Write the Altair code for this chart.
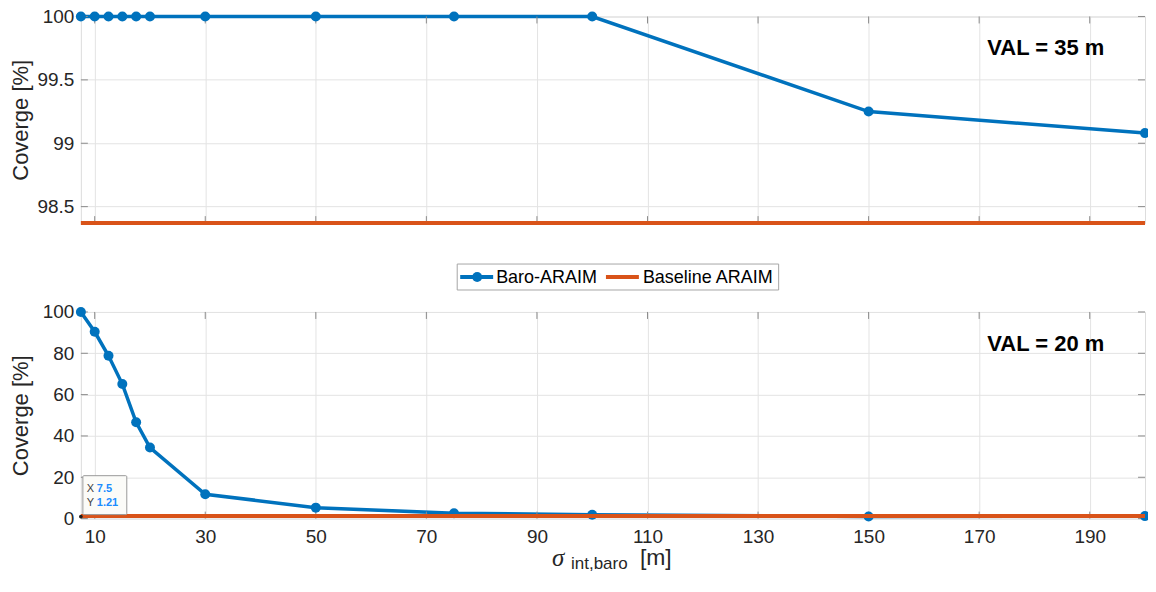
import altair as alt
import pandas as pd

# ---------------- data ----------------
sigma = [7.5, 10, 12.5, 15, 17.5, 20, 30, 50, 75, 100, 150, 200]
baro_35 = [100, 100, 100, 100, 100, 100, 100, 100, 100, 100, 99.25, 99.08]
base_35 = [98.37, 98.37, 98.37, 98.37, 98.37, 98.37, 98.37, 98.37, 98.37, 98.37, 98.37, 98.37]
baro_20 = [100, 90.4, 78.8, 65.1, 46.6, 34.4, 11.8, 5.3, 2.6, 1.9, 1.0, 1.21]
base_20 = [1.21, 1.21, 1.21, 1.21, 1.21, 1.21, 1.21, 1.21, 1.21, 1.21, 1.21, 1.21]
x_ticks = [10, 30, 50, 70, 90, 110, 130, 150, 170, 190]
y_ticks_35 = [98.5, 99, 99.5, 100]
y_ticks_20 = [0, 20, 40, 60, 80, 100]
series_names = ["Baro-ARAIM", "Baseline ARAIM"]

FONT = "Liberation Sans"
BLUE = "#0072BD"
ORANGE = "#D95319"
TXT = "#262626"
GRID = "#e3e3e3"
TICK = "#8c8c8c"
W, H = 1066, 207

one = pd.DataFrame({"k": [0]})


def panel(baro, base, ydom, yticks, val_text, bottom):
    df = pd.DataFrame({"sigma": sigma, "baro": baro, "base": base})
    xscale = alt.Scale(domain=[min(sigma), max(sigma)], nice=False, zero=False)
    yscale = alt.Scale(domain=ydom, nice=False, zero=False)
    xaxis = alt.Axis(values=x_ticks, grid=True, gridColor=GRID, ticks=False,
                     domain=False, labels=bottom, labelFont=FONT,
                     labelFontSize=19, labelColor=TXT, labelPadding=9,
                     title=None)
    yaxis = alt.Axis(values=yticks, grid=True, gridColor=GRID, ticks=False,
                     domain=False, format=".6~g", labelFont=FONT,
                     labelFontSize=19, labelColor=TXT, labelPadding=7,
                     title="Coverge [%]", titleFont=FONT, titleFontSize=22,
                     titleFontWeight="normal", titleColor=TXT, titlePadding=2,
                     minExtent=46, maxExtent=46)
    base_chart = alt.Chart(df)
    line = base_chart.mark_line(color=BLUE, strokeWidth=3.5).encode(
        x=alt.X("sigma:Q", scale=xscale, axis=xaxis),
        y=alt.Y("baro:Q", scale=yscale, axis=yaxis),
    )
    pts = base_chart.mark_circle(color=BLUE, size=100, opacity=1).encode(
        x="sigma:Q", y="baro:Q")
    bl = base_chart.mark_line(color=ORANGE, strokeWidth=4).encode(
        x="sigma:Q", y="base:Q")

    tdf = pd.DataFrame({"sigma": x_ticks})
    ydf = pd.DataFrame({"baro": yticks})
    tk_bottom = alt.Chart(tdf).mark_rule(color=TICK, strokeWidth=1).encode(
        x="sigma:Q", y=alt.value(H), y2=alt.value(H - 7))
    tk_top = alt.Chart(tdf).mark_rule(color=TICK, strokeWidth=1).encode(
        x="sigma:Q", y=alt.value(0), y2=alt.value(7))
    tk_left = alt.Chart(ydf).mark_rule(color=TICK, strokeWidth=1).encode(
        y="baro:Q", x=alt.value(0), x2=alt.value(7))
    tk_right = alt.Chart(ydf).mark_rule(color=TICK, strokeWidth=1).encode(
        y="baro:Q", x=alt.value(W), x2=alt.value(W - 7))

    val = alt.Chart(one).mark_text(
        text=val_text, font=FONT, fontSize=22, fontWeight="bold", color="black",
        align="left", baseline="middle").encode(x=alt.value(908), y=alt.value(32))

    layers = [line, tk_bottom, tk_top, tk_left, tk_right, pts, bl, val]
    return layers


top_layers = panel(baro_35, base_35, [min(base_35), 100], y_ticks_35, "VAL = 35 m", False)
bot_layers = panel(baro_20, base_20, [0, 100], y_ticks_20, "VAL = 20 m", True)

# ---- legend (between the panels, drawn in bottom panel's frame) ----
leg_box = alt.Chart(one).mark_rect(fill="white", stroke="#a6a6a6", strokeWidth=1).encode(
    x=alt.value(377), x2=alt.value(699), y=alt.value(-48), y2=alt.value(-22))
leg_l1 = alt.Chart(one).mark_rule(color=BLUE, strokeWidth=4).encode(
    x=alt.value(380), x2=alt.value(413), y=alt.value(-35))
leg_p1 = alt.Chart(one).mark_circle(color=BLUE, size=100, opacity=1).encode(
    x=alt.value(397), y=alt.value(-35))
leg_t1 = alt.Chart(one).mark_text(text=series_names[0], font=FONT, fontSize=18,
                                  color="black", align="left", baseline="middle").encode(
    x=alt.value(416), y=alt.value(-34))
leg_l2 = alt.Chart(one).mark_rule(color=ORANGE, strokeWidth=4).encode(
    x=alt.value(526), x2=alt.value(559), y=alt.value(-35))
leg_t2 = alt.Chart(one).mark_text(text=series_names[1], font=FONT, fontSize=18,
                                  color="black", align="left", baseline="middle").encode(
    x=alt.value(563), y=alt.value(-34))

# ---- data tip ----
tip_box = alt.Chart(one).mark_rect(fill="#fbfbf8", stroke="#9a9a9a", strokeWidth=1,
                                   cornerRadius=1).encode(
    x=alt.value(2), x2=alt.value(46), y=alt.value(164), y2=alt.value(203))
tip_x = alt.Chart(one).mark_text(text="X", font=FONT, fontSize=11, color="#404040",
                                 align="left", baseline="middle").encode(
    x=alt.value(6), y=alt.value(177))
tip_xv = alt.Chart(one).mark_text(text="7.5", font=FONT, fontSize=11, color="#1a8cff",
                                  fontWeight="bold", align="left", baseline="middle").encode(
    x=alt.value(16), y=alt.value(177))
tip_y = alt.Chart(one).mark_text(text="Y", font=FONT, fontSize=11, color="#404040",
                                 align="left", baseline="middle").encode(
    x=alt.value(6), y=alt.value(191))
tip_yv = alt.Chart(one).mark_text(text="1.21", font=FONT, fontSize=11, color="#1a8cff",
                                  fontWeight="bold", align="left", baseline="middle").encode(
    x=alt.value(16), y=alt.value(191))
tip_dot = alt.Chart(one).mark_circle(color="#202020", size=14, opacity=1).encode(
    x=alt.value(0), y=alt.value(205))

# ---- x title: sigma_{int,baro} [m] ----
xt_sigma = alt.Chart(one).mark_text(text="σ", font="Liberation Serif", fontStyle="italic",
                                    fontSize=25, color=TXT, align="center",
                                    baseline="middle").encode(
    x=alt.value(478), y=alt.value(246))
xt_sub = alt.Chart(one).mark_text(text="int,baro", font=FONT, fontSize=17, color=TXT,
                                  align="left", baseline="middle").encode(
    x=alt.value(491), y=alt.value(252))
xt_m = alt.Chart(one).mark_text(text="[m]", font=FONT, fontSize=23, color=TXT,
                                align="left", baseline="middle").encode(
    x=alt.value(560), y=alt.value(246))

top = alt.layer(*top_layers).properties(width=W, height=H)
bottom = alt.layer(*bot_layers, leg_box, leg_l1, leg_p1, leg_t1, leg_l2, leg_t2,
                   tip_box, tip_x, tip_xv, tip_y, tip_yv, tip_dot,
                   xt_sigma, xt_sub, xt_m).properties(width=W, height=H)

chart = alt.vconcat(top, bottom, spacing=89, bounds="flush").properties(
    padding={"left": 1, "top": -2, "right": -6, "bottom": 0}
).configure_view(stroke="#a0a0a0", strokeWidth=1).configure(background="white")

chart.save("out.html", embed_options={"renderer": "svg", "actions": False})
